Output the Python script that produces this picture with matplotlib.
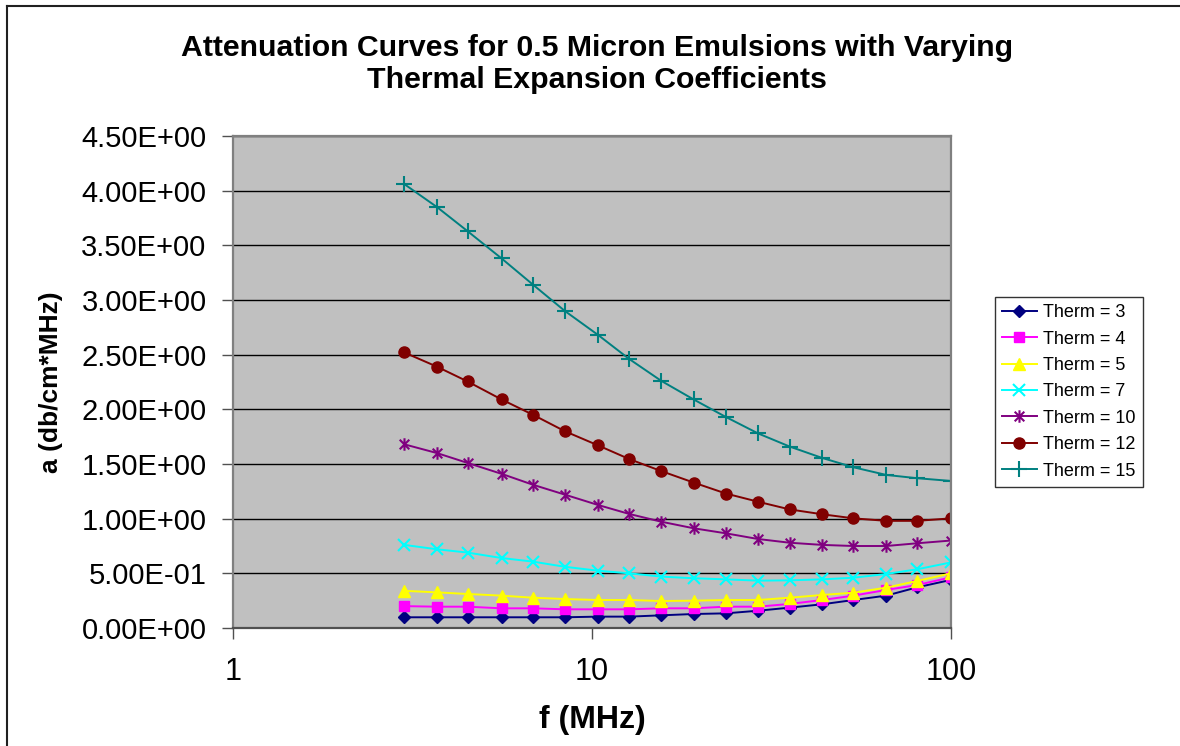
import matplotlib
matplotlib.use("Agg")
import matplotlib.pyplot as plt
from matplotlib.lines import Line2D
from matplotlib.path import Path
from matplotlib.ticker import FixedLocator, FuncFormatter, NullLocator

plt.rcParams['font.family'] = ['Liberation Sans', 'DejaVu Sans']

# Frequency samples (MHz)
freq = [3.0, 3.7, 4.5, 5.6, 6.85, 8.4, 10.4, 12.7, 15.6, 19.2, 23.6, 29.0,
        35.5, 43.8, 53.5, 66.0, 80.5, 100.0]

# Attenuation (dB/cm*MHz) for each thermal expansion coefficient
therm_3 = [0.098, 0.098, 0.098, 0.098, 0.098, 0.098, 0.104, 0.104, 0.116, 0.128,
           0.134, 0.158, 0.186, 0.217, 0.256, 0.296, 0.372, 0.440]
therm_4 = [0.200, 0.195, 0.195, 0.180, 0.180, 0.171, 0.171, 0.171, 0.180, 0.180,
           0.195, 0.195, 0.220, 0.256, 0.296, 0.348, 0.393, 0.464]
therm_5 = [0.340, 0.326, 0.311, 0.296, 0.277, 0.265, 0.256, 0.256, 0.247, 0.250,
           0.256, 0.256, 0.277, 0.302, 0.323, 0.369, 0.430, 0.500]
therm_7 = [0.760, 0.720, 0.690, 0.640, 0.607, 0.560, 0.524, 0.500, 0.470, 0.455,
           0.445, 0.433, 0.436, 0.445, 0.460, 0.494, 0.537, 0.600]
therm_10 = [1.680, 1.600, 1.510, 1.410, 1.310, 1.220, 1.125, 1.043, 0.972, 0.912,
            0.866, 0.814, 0.780, 0.760, 0.750, 0.750, 0.775, 0.800]
therm_12 = [2.520, 2.390, 2.255, 2.090, 1.950, 1.800, 1.670, 1.545, 1.435, 1.330,
            1.230, 1.155, 1.085, 1.040, 1.003, 0.980, 0.980, 1.003]
therm_15 = [4.060, 3.850, 3.630, 3.380, 3.140, 2.900, 2.680, 2.460, 2.260, 2.090,
            1.930, 1.780, 1.660, 1.555, 1.470, 1.400, 1.370, 1.345]

labels = ["Therm = 3", "Therm = 4", "Therm = 5", "Therm = 7",
          "Therm = 10", "Therm = 12", "Therm = 15"]
series = [therm_3, therm_4, therm_5, therm_7, therm_10, therm_12, therm_15]

# Six-armed asterisk (x plus vertical bar)
star = Path([(-1, -1), (1, 1), (-1, 1), (1, -1), (0, -1.3), (0, 1.3)],
            [Path.MOVETO, Path.LINETO, Path.MOVETO, Path.LINETO,
             Path.MOVETO, Path.LINETO])

styles = [
    dict(color="#000080", marker="D", ms=6.5, mec="#000080"),
    dict(color="#FF00FF", marker="s", ms=7.5, mec="#FF00FF"),
    dict(color="#FFFF00", marker="^", ms=9, mec="#FFFF00"),
    dict(color="#00FFFF", marker="x", ms=9, mew=1.5),
    dict(color="#800080", marker=star, ms=9, mew=1.5),
    dict(color="#800000", marker="o", ms=8, mec="#800000"),
    dict(color="#008080", marker="+", ms=11, mew=1.5),
]

fig = plt.figure(figsize=(11.8, 7.46), dpi=100)
ax = fig.add_axes([233 / 1180, 1 - 628 / 746, (951 - 233) / 1180, (628 - 136) / 746])
ax.set_facecolor("#C0C0C0")

for y, lab, st in zip(series, labels, styles):
    ax.plot(freq, y, lw=1.4, label=lab, **st)

ax.set_xscale("log")
ax.set_xlim(1, 100)
ax.set_ylim(0, 4.5)
ax.xaxis.set_major_locator(FixedLocator([1, 10, 100]))
ax.xaxis.set_minor_locator(NullLocator())
ax.xaxis.set_major_formatter(FuncFormatter(lambda v, p: "%g" % v))
ax.yaxis.set_major_locator(FixedLocator([i * 0.5 for i in range(10)]))
ax.yaxis.set_major_formatter(FuncFormatter(lambda v, p: "{:.2E}".format(v)))

ax.grid(axis="y", color="black", lw=1.0)
ax.set_axisbelow(True)
for side in ["left", "right", "top", "bottom"]:
    ax.spines[side].set_color("#808080")
    ax.spines[side].set_linewidth(1.6)
ax.spines["bottom"].set_color("#505050")

ax.tick_params(axis="both", direction="out", length=8, width=1.0,
               color="#505050", labelsize=21)
ax.tick_params(axis="y", pad=11)
ax.tick_params(axis="x", pad=13)
for t in ax.get_xticklabels():
    t.set_fontsize(22)

ax.set_xlabel("f (MHz)", fontsize=23, fontweight="bold", labelpad=13)
ax.set_ylabel("a (db/cm*MHz)", fontsize=19, fontweight="bold", labelpad=13)

fig.text(597 / 1180, 1 - 64 / 746,
         "Attenuation Curves for 0.5 Micron Emulsions with Varying\nThermal Expansion Coefficients",
         ha="center", va="center", fontsize=21.8, fontweight="bold", linespacing=1.22)

leg = fig.legend(loc="upper left", bbox_to_anchor=(995 / 1180, 1 - 297 / 746),
                 bbox_transform=fig.transFigure, fontsize=13, frameon=True,
                 fancybox=False, edgecolor="black", borderaxespad=0,
                 handlelength=1.9, labelspacing=0.52, handletextpad=0.35,
                 borderpad=0.4)
leg.get_frame().set_linewidth(1.0)

# Outer chart frame
fig.add_artist(Line2D([7 / 1180, 7 / 1180], [0, 1 - 6 / 746], color="#202020", lw=1.5,
                      transform=fig.transFigure))
fig.add_artist(Line2D([7 / 1180, 1], [1 - 6 / 746, 1 - 6 / 746], color="#202020", lw=1.5,
                      transform=fig.transFigure))

fig.savefig("out.png", dpi=100)
